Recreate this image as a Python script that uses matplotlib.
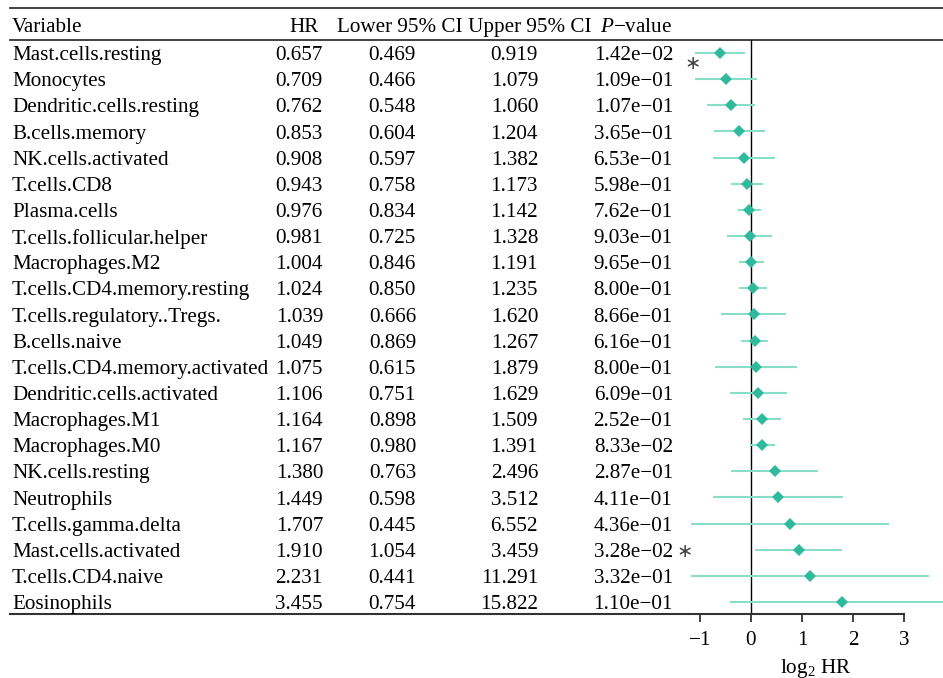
import numpy as np
import matplotlib
matplotlib.use("Agg")
import matplotlib.pyplot as plt

plt.rcParams['font.family'] = ['Liberation Serif', 'DejaVu Serif']
plt.rcParams['mathtext.fontset'] = 'custom'
plt.rcParams['mathtext.rm'] = 'Liberation Serif'
plt.rcParams['mathtext.it'] = 'Liberation Serif:italic'

variables = ["Mast.cells.resting", "Monocytes", "Dendritic.cells.resting", "B.cells.memory",
             "NK.cells.activated", "T.cells.CD8", "Plasma.cells", "T.cells.follicular.helper",
             "Macrophages.M2", "T.cells.CD4.memory.resting", "T.cells.regulatory..Tregs.",
             "B.cells.naive", "T.cells.CD4.memory.activated", "Dendritic.cells.activated",
             "Macrophages.M1", "Macrophages.M0", "NK.cells.resting", "Neutrophils",
             "T.cells.gamma.delta", "Mast.cells.activated", "T.cells.CD4.naive", "Eosinophils"]
hr = [0.657, 0.709, 0.762, 0.853, 0.908, 0.943, 0.976, 0.981, 1.004, 1.024, 1.039,
      1.049, 1.075, 1.106, 1.164, 1.167, 1.380, 1.449, 1.707, 1.910, 2.231, 3.455]
lower = [0.469, 0.466, 0.548, 0.604, 0.597, 0.758, 0.834, 0.725, 0.846, 0.850, 0.666,
         0.869, 0.615, 0.751, 0.898, 0.980, 0.763, 0.598, 0.445, 1.054, 0.441, 0.754]
upper = [0.919, 1.079, 1.060, 1.204, 1.382, 1.173, 1.142, 1.328, 1.191, 1.235, 1.620,
         1.267, 1.879, 1.629, 1.509, 1.391, 2.496, 3.512, 6.552, 3.459, 11.291, 15.822]
pvals = [1.42e-02, 1.09e-01, 1.07e-01, 3.65e-01, 6.53e-01, 5.98e-01, 7.62e-01, 9.03e-01,
         9.65e-01, 8.00e-01, 8.66e-01, 6.16e-01, 8.00e-01, 6.09e-01, 2.52e-01, 8.33e-02,
         2.87e-01, 4.11e-01, 4.36e-01, 3.28e-02, 3.32e-01, 1.10e-01]
headers = ["Variable", "HR", "Lower 95% CI", "Upper 95% CI", r"$\it{P}$−value"]
xticks = [-1, 0, 1, 2, 3]

W, H = 943, 678
fig = plt.figure(figsize=(W / 100, H / 100), dpi=100)

y_top_px, y_bot_px = 40, 614
ax_left_px = 689
b = (H - y_bot_px) / H
h = (y_bot_px - y_top_px) / H
n = len(variables)
rows = np.arange(1, n + 1)
ylim = (22.46, 0.5)

# table axes (x in pixels)
tax = fig.add_axes([0, b, 1, h])
tax.set_xlim(0, W)
tax.set_ylim(*ylim)
tax.axis('off')

fs = 15.2
dy = 0.1
col_x = [12, 323, 416, 538, 673]
for i, r in enumerate(rows):
    ty = r + dy
    tax.text(col_x[0], ty, variables[i], ha='left', va='center', fontsize=fs)
    tax.text(col_x[1], ty, f"{hr[i]:.3f}", ha='right', va='center', fontsize=fs)
    tax.text(col_x[2], ty, f"{lower[i]:.3f}", ha='right', va='center', fontsize=fs)
    tax.text(col_x[3], ty, f"{upper[i]:.3f}", ha='right', va='center', fontsize=fs)
    tax.text(col_x[4], ty, f"{pvals[i]:.2e}".replace('-', '−'), ha='right', va='center', fontsize=fs)

hy = 0.02
tax.text(12, hy, headers[0], ha='left', va='center', fontsize=fs, clip_on=False)
tax.text(319, hy, headers[1], ha='right', va='center', fontsize=fs, clip_on=False)
tax.text(400, hy, headers[2], ha='center', va='center', fontsize=fs, clip_on=False)
tax.text(530, hy, headers[3], ha='center', va='center', fontsize=fs, clip_on=False)
tax.text(636, hy, headers[4], ha='center', va='center', fontsize=fs, clip_on=False)

lc = '#333333'
tax.plot([10, W], [-0.72, -0.72], color=lc, lw=1.3, clip_on=False)
tax.plot([10, W], [0.5, 0.5], color=lc, lw=1.3, clip_on=False)
tax.plot([10, ax_left_px], [22.46, 22.46], color=lc, lw=1.5, clip_on=False)

# forest axes
l = ax_left_px / W
ax = fig.add_axes([l, b, 1 - l, h])
px_per_unit = 51.0
xmin = (ax_left_px - 751) / px_per_unit
xmax = (W - 751) / px_per_unit
ax.set_xlim(xmin, xmax)
ax.set_ylim(*ylim)
ax.patch.set_alpha(0)
for s in ['top', 'right', 'left']:
    ax.spines[s].set_visible(False)
ax.spines['bottom'].set_bounds(xmin, 3)
ax.spines['bottom'].set_color(lc)
ax.spines['bottom'].set_linewidth(1.5)
ax.set_yticks([])
ax.set_xticks(xticks)
ax.set_xticklabels([str(t).replace('-', '−') for t in xticks], fontsize=fs)
ax.tick_params(axis='x', direction='out', length=6, width=1.3, color=lc, pad=6)
ax.set_xlabel(r"log$_2$ HR", fontsize=fs, labelpad=5)

ax.axvline(0, color='black', lw=1.0)
lh = np.log2(hr)
ll = np.log2(lower)
lu = np.log2(upper)
line_c = '#8addc6'
dot_c = '#2fb99d'
ax.hlines(rows, ll, lu, color=line_c, lw=1.5)
ax.plot(lh, rows, 'D', color=dot_c, markersize=5.8, markeredgewidth=0)

# significance markers
ax.annotate("∗", xy=(ll[0], rows[0]), xytext=(-3, -10), textcoords='offset pixels',
            ha='center', va='center', fontsize=14, color='#444444', annotation_clip=False,
            family=['DejaVu Sans'])
tax.annotate("∗", xy=(col_x[4], rows[19]), xytext=(12, -2), textcoords='offset pixels',
             ha='center', va='center', fontsize=14, color='#444444', annotation_clip=False,
             family=['DejaVu Sans'])

fig.savefig("out.png", dpi=100)
